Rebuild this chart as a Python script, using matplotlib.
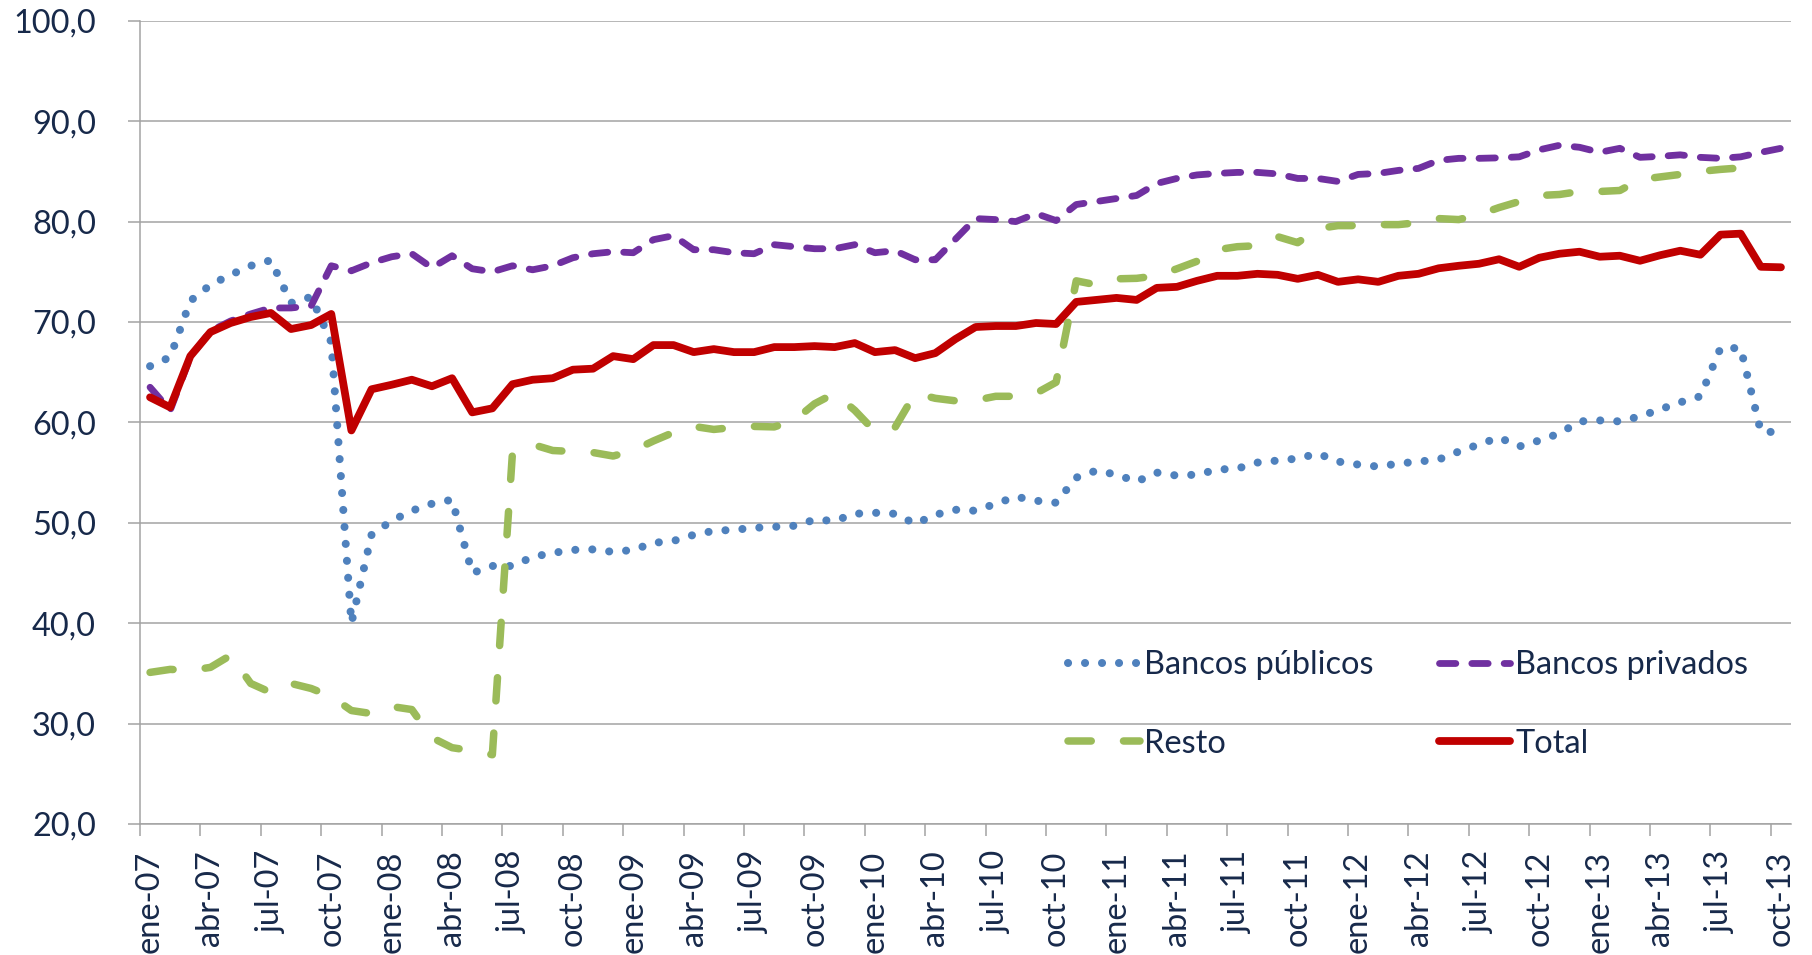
import matplotlib
matplotlib.use("Agg")
import matplotlib.pyplot as plt
import numpy as np

# ---------------- data ----------------
tick_labels = ['ene-07', 'abr-07', 'jul-07', 'oct-07', 'ene-08', 'abr-08', 'jul-08',
               'oct-08', 'ene-09', 'abr-09', 'jul-09', 'oct-09', 'ene-10', 'abr-10',
               'jul-10', 'oct-10', 'ene-11', 'abr-11', 'jul-11', 'oct-11', 'ene-12',
               'abr-12', 'jul-12', 'oct-12', 'ene-13', 'abr-13', 'jul-13', 'oct-13']

bancos_publicos = [65.6, 66.5, 72.1, 73.7, 74.7, 75.6, 76.15, 71.9, 72.5, 68.0,
                   40.0, 48.8, 50.2, 51.2, 51.9, 52.3, 45.0, 45.7, 45.7, 46.6,
                   47.0, 47.3, 47.35, 47.1, 47.3, 48.0, 48.2, 48.8, 49.2, 49.3,
                   49.5, 49.6, 49.7, 50.3, 50.2, 50.9, 51.0, 50.9, 49.9, 50.8,
                   51.3, 51.2, 51.9, 52.6, 52.2, 52.0, 54.5, 55.2, 54.8, 54.1,
                   55.0, 54.7, 54.8, 55.3, 55.4, 56.0, 56.2, 56.4, 56.9, 56.1,
                   55.8, 55.6, 55.9, 56.1, 56.3, 57.1, 57.8, 58.5, 57.6, 58.2,
                   58.9, 60.1, 60.2, 60.1, 60.6, 61.3, 62.0, 62.6, 67.4, 67.4,
                   59.1, 59.0]

bancos_privados = [63.5, 61.2, 66.5, 69.1, 70.1, 70.8, 71.4, 71.4, 71.6, 75.6,
                   75.1, 75.9, 76.5, 76.8, 75.4, 76.6, 75.3, 75.0, 75.6, 75.2,
                   75.6, 76.4, 76.8, 77.0, 76.9, 78.2, 78.6, 77.2, 77.2, 76.9,
                   76.8, 77.7, 77.5, 77.3, 77.3, 77.7, 76.9, 77.1, 76.2, 76.2,
                   78.25, 80.3, 80.2, 80.0, 80.8, 80.1, 81.7, 82.0, 82.3, 82.6,
                   83.8, 84.3, 84.65, 84.8, 84.9, 84.9, 84.75, 84.3, 84.3, 84.0,
                   84.7, 84.8, 85.1, 85.3, 86.1, 86.3, 86.3, 86.35, 86.45, 87.15,
                   87.6, 87.4, 86.9, 87.3, 86.4, 86.5, 86.65, 86.4, 86.3, 86.45,
                   86.9, 87.3]

resto = [35.1, 35.4, 35.3, 35.6, 36.8, 34.0, 33.1, 34.0, 33.5, 32.7,
         31.3, 31.0, 31.7, 31.4, 28.6, 27.6, 27.3, 26.9, 57.0, 57.8,
         57.2, 57.1, 57.0, 56.65, 57.2, 58.15, 59.0, 59.6, 59.3, 59.5,
         59.6, 59.55, 60.2, 61.85, 62.9, 61.2, 59.1, 59.5, 62.9, 62.4,
         62.15, 62.2, 62.6, 62.6, 62.9, 64.0, 74.1, 73.7, 74.3, 74.35,
         74.6, 75.3, 76.05, 77.2, 77.5, 77.6, 78.5, 77.9, 79.3, 79.6,
         79.6, 79.7, 79.7, 79.9, 80.3, 80.2, 80.7, 81.4, 82.0, 82.6,
         82.7, 83.0, 83.0, 83.1, 84.2, 84.45, 84.7, 85.0, 85.2, 85.35,
         85.45, np.nan]

total = [62.5, 61.5, 66.6, 69.0, 69.9, 70.5, 70.9, 69.3, 69.7, 70.8,
         59.2, 63.3, 63.75, 64.25, 63.6, 64.4, 61.0, 61.4, 63.8, 64.25,
         64.4, 65.25, 65.35, 66.6, 66.3, 67.7, 67.7, 67.0, 67.3, 67.0,
         67.0, 67.5, 67.5, 67.6, 67.5, 67.9, 67.0, 67.2, 66.4, 66.9,
         68.3, 69.5, 69.6, 69.6, 69.9, 69.8, 72.0, 72.2, 72.4, 72.2,
         73.4, 73.5, 74.1, 74.6, 74.6, 74.8, 74.7, 74.3, 74.7, 74.0,
         74.25, 74.0, 74.6, 74.8, 75.35, 75.6, 75.8, 76.25, 75.5, 76.4,
         76.8, 77.0, 76.5, 76.6, 76.1, 76.65, 77.1, 76.7, 78.7, 78.8,
         75.5, 75.45]

series_names = ['Bancos públicos', 'Bancos privados', 'Resto', 'Total']

# ---------------- style ----------------
FONT = ['Lato', 'DejaVu Sans']
TXT = '#17294A'
GRID = '#A3A3A3'
FS = 23.4

plt.rcParams['font.family'] = FONT

fig = plt.figure(figsize=(18.12, 9.55), dpi=100)
ax = fig.add_axes([0.07726, 0.13717, 0.91115, 0.84105])

n = len(total)
x = np.arange(n)

h_pub, = ax.plot(x, bancos_publicos, color='#4F81BD', lw=5.8, linestyle=(0, (0.01, 2.1)),
                 dash_capstyle='round', label=series_names[0], zorder=3)
h_priv, = ax.plot(x, bancos_privados, color='#7030A0', lw=4.9, linestyle=(0, (2.4, 2.35)),
                  dash_capstyle='round', dash_joinstyle='round', label=series_names[1], zorder=4)
h_resto, = ax.plot(x, resto, color='#9BBB59', lw=5.4, linestyle=(0, (3.1, 4.3)),
                   dash_capstyle='round', dash_joinstyle='round', label=series_names[2], zorder=5)
h_tot, = ax.plot(x, total, color='#C00000', lw=5.6, solid_capstyle='round',
                 solid_joinstyle='round', label=series_names[3], zorder=6)

# axes limits / ticks
ax.set_xlim(-0.5, n - 0.5)
ax.set_ylim(20, 100)

major_pos = np.arange(0, n, 3)
ax.set_xticks(major_pos)
ax.set_xticklabels(tick_labels, rotation=90, fontsize=FS, color=TXT, va='top', ha='center')
ax.set_xticks(np.arange(-0.5, n - 1, 3), minor=True)
ax.tick_params(axis='x', which='major', length=0, pad=19)
ax.tick_params(axis='x', which='minor', length=8.6, width=1.1, color=GRID, direction='out')

yt = np.arange(20, 101, 10)
ax.set_yticks(yt)
ax.set_yticklabels([f"{v:.1f}".replace('.', ',') for v in yt], fontsize=FS, color=TXT)
ax.tick_params(axis='y', length=8.6, width=1.1, color=GRID, direction='out', pad=23)

ax.grid(axis='y', color=GRID, lw=1.1, zorder=1)
ax.set_axisbelow(True)
for s in ['top', 'right']:
    ax.spines[s].set_visible(False)
for s in ['left', 'bottom']:
    ax.spines[s].set_color(GRID)
    ax.spines[s].set_linewidth(1.1)

# legend filled row-wise like the original (matplotlib fills column-wise)
handles = [h_pub, h_resto, h_priv, h_tot]
labels = [series_names[0], series_names[2], series_names[1], series_names[3]]
leg = ax.legend(handles, labels, ncol=2, loc='upper left',
                bbox_to_anchor=(1068 / 1812, 1 - 650 / 955),
                bbox_transform=fig.transFigure, frameon=False, fontsize=FS,
                handlelength=2.2, handletextpad=0.15, columnspacing=2.0,
                labelspacing=1.5, borderpad=0, borderaxespad=0)
for t in leg.get_texts():
    t.set_color(TXT)

fig.savefig('out.png', dpi=100)
